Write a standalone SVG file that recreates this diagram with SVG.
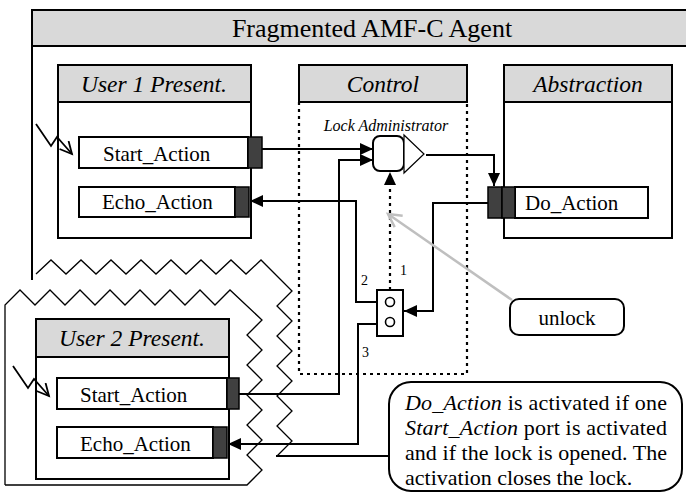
<svg xmlns="http://www.w3.org/2000/svg" width="686" height="494" viewBox="0 0 686 494">
<style>
text{font-family:"Liberation Serif","Times New Roman",serif;fill:#000}
.hd{fill:#d9d9d9;stroke:#000;stroke-width:2}
.bx{fill:#fff;stroke:#000;stroke-width:2}
.pt{fill:#404040;stroke:#000;stroke-width:1.5}
.ln{fill:none;stroke:#000;stroke-width:2}
.zz{fill:none;stroke:#000;stroke-width:1.3}
.bolt{fill:none;stroke:#000;stroke-width:1.8}
.dot{fill:none;stroke:#000;stroke-width:2.2;stroke-dasharray:3,4}
.it{font-style:italic}
.h{font-size:23.5px;font-style:italic;text-anchor:middle}
.lb{font-size:21px}
.sm{font-size:14px}
</style>
<defs>
<marker id="ah" markerUnits="userSpaceOnUse" markerWidth="14" markerHeight="12" refX="13" refY="6" orient="auto">
<path d="M0,0 L13,6 L0,12 z" fill="#000"/>
</marker>
<marker id="open" markerUnits="userSpaceOnUse" markerWidth="16" markerHeight="16" refX="13" refY="7" orient="auto">
<path d="M1,1 L13,7 L1,13" fill="none" stroke="#000" stroke-width="1.8"/>
</marker>
<marker id="gopen" markerUnits="userSpaceOnUse" markerWidth="18" markerHeight="18" refX="14" refY="8" orient="auto">
<path d="M1,1 L14,8 L1,15" fill="none" stroke="#bfbfbf" stroke-width="2.5"/>
</marker>
</defs>

<g id="agent">
<rect class="hd" x="32" y="10" width="670" height="36"/>
<text x="372" y="37" font-size="26" text-anchor="middle">Fragmented AMF-C Agent</text>
<path class="ln" d="M32,46 V280"/>
<polyline class="zz" points="36,274 51,260 66,274 81,260 96,274 111,260 126,274 141,260 156,274 171,260 186,274 201,260 216,274 231,260 246,274 261,260 292,291 277,306 292,321 277,336 292,351 277,366 292,381 277,396 292,411 277,426 292,441 277,456"/>
</g>

<g id="fragment2">
<polyline class="zz" points="5,485 5,305 20,290 35,305 50,290 65,305 80,290 95,305 110,290 125,305 140,290 155,305 170,290 185,305 200,290 215,305 230,290 262,320 247,335 262,350 247,365 262,380 247,395 262,410 247,425 262,440 247,455 262,470 247,485 5,485"/>
</g>

<g id="user1">
<rect class="hd" x="58" y="65" width="193" height="37"/>
<rect class="bx" x="58" y="102" width="193" height="136"/>
<text class="h" x="154" y="92">User 1 Present.</text>
<rect class="bx" x="79" y="137" width="169" height="31" stroke-width="1.5"/>
<rect class="pt" x="248" y="137" width="14" height="31"/>
<text class="lb" x="103" y="161">Start_Action</text>
<rect class="bx" x="79" y="187" width="156" height="30" stroke-width="1.5"/>
<rect class="pt" x="235" y="187" width="14" height="30"/>
<text class="lb" x="102" y="209">Echo_Action</text>
<polyline class="bolt" points="36,124 51,146 57,137 72,154" marker-end="url(#open)"/>
</g>

<g id="user2">
<rect class="hd" x="36" y="319" width="193" height="38"/>
<rect class="bx" x="36" y="357" width="193" height="122"/>
<text class="h" x="132" y="346">User 2 Present.</text>
<rect class="bx" x="57" y="378" width="170" height="31" stroke-width="1.5"/>
<rect class="pt" x="227" y="378" width="12" height="31"/>
<text class="lb" x="80" y="402">Start_Action</text>
<rect class="bx" x="57" y="427" width="156" height="31" stroke-width="1.5"/>
<rect class="pt" x="213" y="427" width="14" height="31"/>
<text class="lb" x="80" y="451">Echo_Action</text>
<polyline class="bolt" points="13,366 28,388 34,379 49,396" marker-end="url(#open)"/>
</g>

<g id="control">
<rect class="hd" x="299" y="65" width="168" height="37"/>
<text class="h" x="383" y="92">Control</text>
<path class="dot" d="M299,102 V374 H467 V102"/>
<text x="386" y="131" font-size="16" font-style="italic" text-anchor="middle">Lock Administrator</text>
</g>

<g id="lockadmin">
<rect x="373" y="136" width="31" height="35" rx="7" fill="#fff" stroke="#000" stroke-width="2"/>
<polygon points="404,135 424,154 404,173" fill="#fff" stroke="#000" stroke-width="1.2"/>
</g>

<g id="lock">
<rect x="377" y="290" width="26" height="46" fill="#fff" stroke="#000" stroke-width="2"/>
<circle cx="390" cy="302" r="4.5" fill="#fff" stroke="#000" stroke-width="1.6"/>
<circle cx="390" cy="322" r="4.5" fill="#fff" stroke="#000" stroke-width="1.6"/>
<text class="sm" x="400" y="275">1</text>
<text class="sm" x="361" y="285">2</text>
<text class="sm" x="362" y="357">3</text>
</g>

<g id="abstraction">
<rect class="hd" x="504" y="65" width="168" height="37"/>
<rect class="bx" x="504" y="102" width="168" height="136"/>
<text class="h" x="588" y="92">Abstraction</text>
<rect class="bx" x="515" y="187" width="133" height="31" stroke-width="1.5"/>
<rect class="pt" x="488" y="187" width="14" height="31"/>
<rect class="pt" x="502" y="187" width="13" height="31"/>
<text class="lb" x="525" y="210">Do_Action</text>
</g>

<g id="unlock">
<rect x="510" y="299" width="114" height="36" rx="9" fill="#fff" stroke="#000" stroke-width="2"/>
<text class="lb" x="567" y="325" text-anchor="middle">unlock</text>
</g>

<g id="note">
<rect x="389" y="382" width="293" height="109" rx="22" fill="#fff" stroke="#000" stroke-width="2"/>
<text x="405" y="410" font-size="22" textLength="262" lengthAdjust="spacing"><tspan class="it">Do_Action</tspan> is activated if one</text>
<text x="405" y="435" font-size="22" textLength="262" lengthAdjust="spacing"><tspan class="it">Start_Action</tspan> port is activated</text>
<text x="405" y="460" font-size="22" textLength="262" lengthAdjust="spacing">and if the lock is opened. The</text>
<text x="405" y="485" font-size="22">activation closes the lock.</text>
</g>

<g id="connectors">
<path class="ln" d="M262,149 H373" marker-end="url(#ah)"/>
<path class="ln" d="M239,394 H339 V160 H373" marker-end="url(#ah)"/>
<path class="ln" d="M426,155 H494 V186" marker-end="url(#ah)"/>
<path class="ln" d="M488,203 H433 V311 H404" marker-end="url(#ah)"/>
<path class="ln" d="M377,302 H356 V201 H250" marker-end="url(#ah)"/>
<path class="ln" d="M377,324 H358 V444 H228" marker-end="url(#ah)"/>
<path class="dot" d="M390,290 V186"/>
<path d="M384,185 L390,172 L396,185 z" fill="#000"/>
<path d="M512,300 L388,214" fill="none" stroke="#bfbfbf" stroke-width="2.5" marker-end="url(#gopen)"/>
<path class="ln" d="M276,456 H389"/>
</g>
</svg>
